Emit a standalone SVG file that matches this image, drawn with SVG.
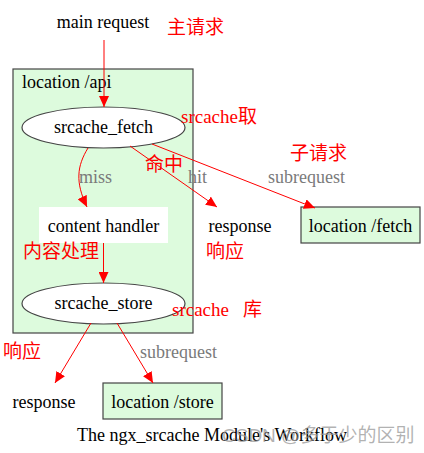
<svg xmlns="http://www.w3.org/2000/svg" width="424" height="453" viewBox="0 0 424 453">
<defs>
<marker id="ah" markerWidth="11" markerHeight="10" refX="11" refY="5" orient="auto" markerUnits="userSpaceOnUse">
<polygon points="0,0 11,5 0,10" fill="#ff0000"/>
</marker>
<style>
.t{font-family:"Liberation Serif","Times New Roman",serif;font-size:18px;fill:#000}
.g{font-family:"Liberation Serif","Times New Roman",serif;font-size:18px;fill:#7a7a7a}
.r{font-family:"Liberation Serif","Noto Sans CJK SC",serif;font-size:19px;fill:#ff0000}
.e{fill:none;stroke:#ff0000;stroke-width:1;marker-end:url(#ah)}
.n{fill:#ddfbdd;stroke:#444;stroke-width:1.2}
.c{text-anchor:middle}
</style>
</defs>
<rect width="424" height="453" fill="#fff"/>
<g id="cluster_api">
<rect x="13" y="69" width="180" height="264" class="n"/>
<text x="22" y="88" class="t">location /api</text>
</g>
<g id="main_request"><text x="103" y="28" class="t c">main request</text></g>
<g id="srcache_fetch">
<ellipse cx="103.5" cy="127.5" rx="81.5" ry="20.5" fill="#fff" stroke="#444" stroke-width="1.2"/>
<text x="103.5" y="133" class="t c">srcache_fetch</text>
</g>
<g id="content_handler">
<rect x="39" y="207" width="129" height="36" fill="#fff"/>
<text x="103.5" y="232" class="t c">content handler</text>
</g>
<g id="response1"><text x="240" y="232" class="t c">response</text></g>
<g id="location_fetch">
<rect x="301" y="207" width="119" height="36" class="n"/>
<text x="360.5" y="232" class="t c">location /fetch</text>
</g>
<g id="srcache_store">
<ellipse cx="103.5" cy="303.5" rx="81.5" ry="20.5" fill="#fff" stroke="#444" stroke-width="1.2"/>
<text x="103.5" y="309" class="t c">srcache_store</text>
</g>
<g id="response2"><text x="44" y="408" class="t c">response</text></g>
<g id="location_store">
<rect x="103" y="383" width="119" height="36" class="n"/>
<text x="162.5" y="408" class="t c">location /store</text>
</g>
<g id="connectors">
<path d="M104,40 L104,107" class="e"/>
<path d="M88,148 C77,166 75,182 87,207" class="e"/>
<path d="M130,146 L217,207" class="e"/>
<path d="M152,144 L315,208" class="e"/>
<path d="M103.5,243 L103.5,283" class="e"/>
<path d="M91,323 L55,383" class="e"/>
<path d="M117,323 L153,383" class="e"/>
<text x="79" y="183" class="g">miss</text>
<text x="188" y="183" class="g">hit</text>
<text x="268" y="183" class="g">subrequest</text>
<text x="140" y="358" class="g">subrequest</text>
</g>
<g id="annotations">
<text x="167" y="34" class="r">主请求</text>
<text x="181" y="123" class="r">srcache取</text>
<text x="290" y="160" class="r">子请求</text>
<text x="145" y="171" class="r">命中</text>
<text x="23" y="258" class="r">内容处理</text>
<text x="206" y="258" class="r">响应</text>
<text x="172" y="316" class="r">srcache<tspan x="243">库</tspan></text>
<text x="3" y="358" class="r">响应</text>
</g>
<g id="caption">
<text x="212" y="441" class="t c">The ngx_srcache Module's Workflow</text>
<text x="222" y="442" font-family="'Liberation Sans','Noto Sans CJK SC',sans-serif" font-size="19" fill="#999" fill-opacity="0.75">CSDN @多于少的区别</text>
</g>
</svg>
